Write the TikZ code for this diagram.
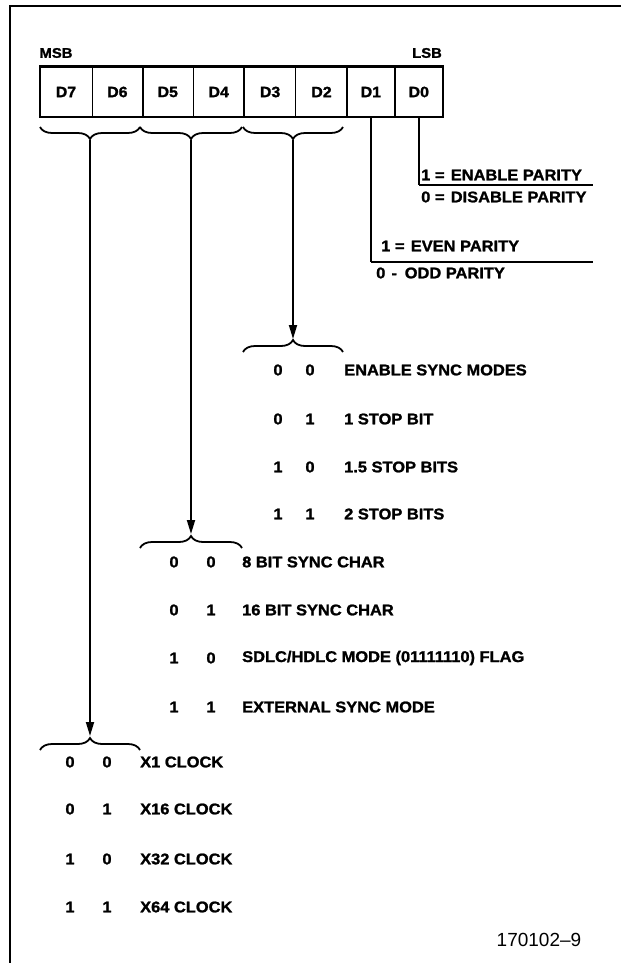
\documentclass[tikz,border=0pt]{standalone}
\usepackage{fontspec}
\setmainfont{Liberation Sans}
\newfontfamily\heavy{Liberation Sans}[BoldFont={Liberation Sans Bold},BoldFeatures={FakeBold=1.4,FakeStretch=1.06}]
\usetikzlibrary{arrows.meta,positioning,decorations.pathreplacing}
\tikzset{
  bitcell/.style={minimum width=50pt,minimum height=50pt,inner sep=0pt,font=\heavy\fontsize{15}{15}\selectfont\bfseries},
  tag/.style={inner sep=0pt,font=\heavy\fontsize{14}{14}\selectfont\bfseries},
  entry/.style={anchor=west,inner sep=0pt,font=\heavy\fontsize{15.5}{16}\selectfont\bfseries},
  bitval/.style={inner sep=0pt,font=\heavy\fontsize{15.5}{16}\selectfont\bfseries},
  frameline/.style={line width=2pt},
  regline/.style={line width=2.6pt},
  divthin/.style={line width=0.9pt},
  divthick/.style={line width=2pt},
  lead/.style={line width=1.8pt},
  rule/.style={line width=2.4pt},
  arr/.style={-{Triangle[length=14pt,width=8pt]},line width=1.8pt},
  grp/.style={decorate,decoration={brace,amplitude=12pt},line width=1.8pt}
}

\begin{document}
\begin{tikzpicture}[x=1pt,y=-1pt]
  \useasboundingbox (0,0) rectangle (621,963);
  % outer frame
  \draw[frameline] (10,963) -- (10,6) -- (621,6);

  % mode register
  \node[bitcell,minimum width=52pt] (d7) at (66,92) {D7};
  \node[bitcell,right=0pt of d7] (d6) {D6};
  \node[bitcell,right=0pt of d6] (d5) {D5};
  \node[bitcell,minimum width=51pt,right=0pt of d5] (d4) {D4};
  \node[bitcell,minimum width=51pt,right=0pt of d4] (d3) {D3};
  \node[bitcell,minimum width=51pt,right=0pt of d3] (d2) {D2};
  \node[bitcell,minimum width=47pt,right=0pt of d2] (d1) {D1};
  \node[bitcell,minimum width=48pt,right=0pt of d1] (d0) {D0};
  \draw[regline] (d7.north west) rectangle (d0.south east);
  \draw[divthin] (d7.north east) -- (d7.south east);
  \draw[divthick] (d6.north east) -- (d6.south east);
  \draw[divthin] (d5.north east) -- (d5.south east);
  \draw[divthick] (d4.north east) -- (d4.south east);
  \draw[divthin] (d3.north east) -- (d3.south east);
  \draw[divthick] (d2.north east) -- (d2.south east);
  \draw[divthick] (d1.north east) -- (d1.south east);
  \node[tag] (msb) at (56,53) {MSB};
  \node[tag] (lsb) at (427,53) {LSB};

  % parity bits
  \coordinate (p0) at (d0.south |- 0,185);
  \coordinate (p0end) at (593,185);
  \coordinate (p1) at (d1.south |- 0,262);
  \coordinate (p1end) at (593,262);
  \draw[lead] (d0.south) -- (p0);
  \draw[rule] (p0) -- (p0end);
  \draw[lead] (d1.south) -- (p1);
  \draw[rule] (p1) -- (p1end);
  \node[entry] (en1) at (421,175) {1\hspace{0.3em}=\hspace{0.4em}ENABLE PARITY};
  \node[entry] (en0) at (421,197) {0\hspace{0.3em}=\hspace{0.4em}DISABLE PARITY};
  \node[entry] (ev1) at (381,246) {1\hspace{0.3em}=\hspace{0.4em}EVEN PARITY};
  \node[entry] (ev0) at (376,273) {0\hspace{0.4em}-\hspace{0.5em}ODD PARITY};

  % bit pair braces
  \draw[grp] (140,127) -- (40,127);
  \draw[grp] (242,127) -- (140,127);
  \draw[grp] (343,127) -- (243,127);
  \coordinate (g1top) at (90,140);
  \coordinate (g2top) at (191,140);
  \coordinate (g3top) at (293,140);
  \coordinate (g1bot) at (90,736);
  \coordinate (g2bot) at (191,534);
  \coordinate (g3bot) at (293,339);
  \draw[arr] (g3top) -- (g3bot);
  \draw[arr] (g2top) -- (g2bot);
  \draw[arr] (g1top) -- (g1bot);
  \draw[grp] (243,352) -- (343,352);
  \draw[grp] (140,548) -- (242,548);
  \draw[grp] (40,750) -- (140,750);

  % D3 D2
  \foreach \y/\a/\b/\txt in {370/0/0/ENABLE SYNC MODES,419/0/1/1 STOP BIT,467/1/0/1.5 STOP BITS,514/1/1/2 STOP BITS}{
    \node[bitval] (sa\y) at (278,\y) {\a};
    \node[bitval] (sb\y) at (310,\y) {\b};
    \node[entry] (st\y) at (344,\y) {\txt};
  }
  % D5 D4
  \foreach \y/\a/\b/\txt in {562/0/0/8 BIT SYNC CHAR,610/0/1/16 BIT SYNC CHAR,658/1/0/{SDLC/HDLC MODE (01111110) FLAG},707/1/1/EXTERNAL SYNC MODE}{
    \node[bitval] (ma\y) at (174,\y) {\a};
    \node[bitval] (mb\y) at (211,\y) {\b};
    \node[entry] (mt\y) at (242,\y) {\txt};
  }
  % D7 D6
  \foreach \y/\a/\b/\txt in {762/0/0/X1 CLOCK,809/0/1/X16 CLOCK,859/1/0/X32 CLOCK,907/1/1/X64 CLOCK}{
    \node[bitval] (ca\y) at (70,\y) {\a};
    \node[bitval] (cb\y) at (107,\y) {\b};
    \node[entry] (ct\y) at (140,\y) {\txt};
  }

  \node[inner sep=0pt,font=\fontsize{19}{19}\selectfont] (figno) at (539,940) {170102--9};
\end{tikzpicture}
\end{document}
